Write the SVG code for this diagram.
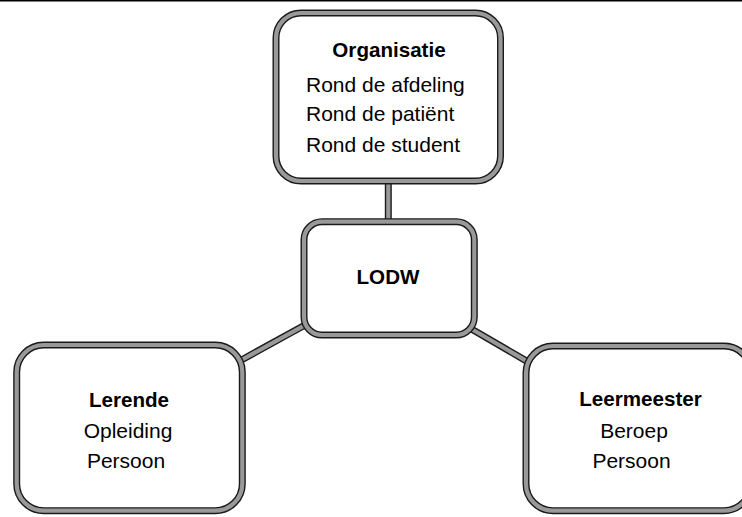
<svg xmlns="http://www.w3.org/2000/svg" width="742" height="517" viewBox="0 0 742 517">
<style>
.bo{fill:#fff;stroke:#1a1a1a;stroke-width:7}
.bm{fill:none;stroke:#999;stroke-width:4.2}
.co{stroke:#1a1a1a;stroke-width:7;fill:none}
.cm{stroke:#999;stroke-width:4.2;fill:none}
text{font-family:"Liberation Sans",Arial,sans-serif;font-size:21px;fill:#000}
.b{font-weight:bold;font-size:20.6px}
.c{text-anchor:middle}
</style>
<rect x="0" y="0" width="742" height="517" fill="#fff"/>
<line x1="0" y1="0.8" x2="742" y2="0.8" stroke="#000" stroke-width="1.6"/>
<g id="connectors">
<line class="co" x1="388.3" y1="178" x2="388.3" y2="226"/>
<line class="cm" x1="388.3" y1="178" x2="388.3" y2="226"/>
<line class="co" x1="236" y1="363" x2="310" y2="322.3"/>
<line class="cm" x1="236" y1="363" x2="310" y2="322.3"/>
<line class="co" x1="465" y1="325.3" x2="531" y2="363.6"/>
<line class="cm" x1="465" y1="325.3" x2="531" y2="363.6"/>
</g>
<g id="organisatie">
<rect class="bo" x="276" y="13" width="224.5" height="168" rx="25"/>
<rect class="bm" x="276" y="13" width="224.5" height="168" rx="25"/>
<text class="b c" x="389" y="57">Organisatie</text>
<text x="306" y="92">Rond de afdeling</text>
<text x="306" y="121">Rond de patiënt</text>
<text x="306" y="152">Rond de student</text>
</g>
<g id="lodw">
<rect class="bo" x="304" y="221.7" width="170.3" height="113.3" rx="18"/>
<rect class="bm" x="304" y="221.7" width="170.3" height="113.3" rx="18"/>
<text class="b c" x="388" y="284">LODW</text>
</g>
<g id="lerende">
<rect class="bo" x="16.7" y="345" width="225.6" height="165.7" rx="27"/>
<rect class="bm" x="16.7" y="345" width="225.6" height="165.7" rx="27"/>
<text class="b c" x="129" y="407">Lerende</text>
<text class="c" x="128" y="438">Opleiding</text>
<text class="c" x="126" y="468">Persoon</text>
</g>
<g id="leermeester">
<rect class="bo" x="526" y="346" width="225" height="164.7" rx="27"/>
<rect class="bm" x="526" y="346" width="225" height="164.7" rx="27"/>
<text class="b c" x="640.5" y="406">Leermeester</text>
<text class="c" x="634" y="438">Beroep</text>
<text class="c" x="631.5" y="468">Persoon</text>
</g>
</svg>
